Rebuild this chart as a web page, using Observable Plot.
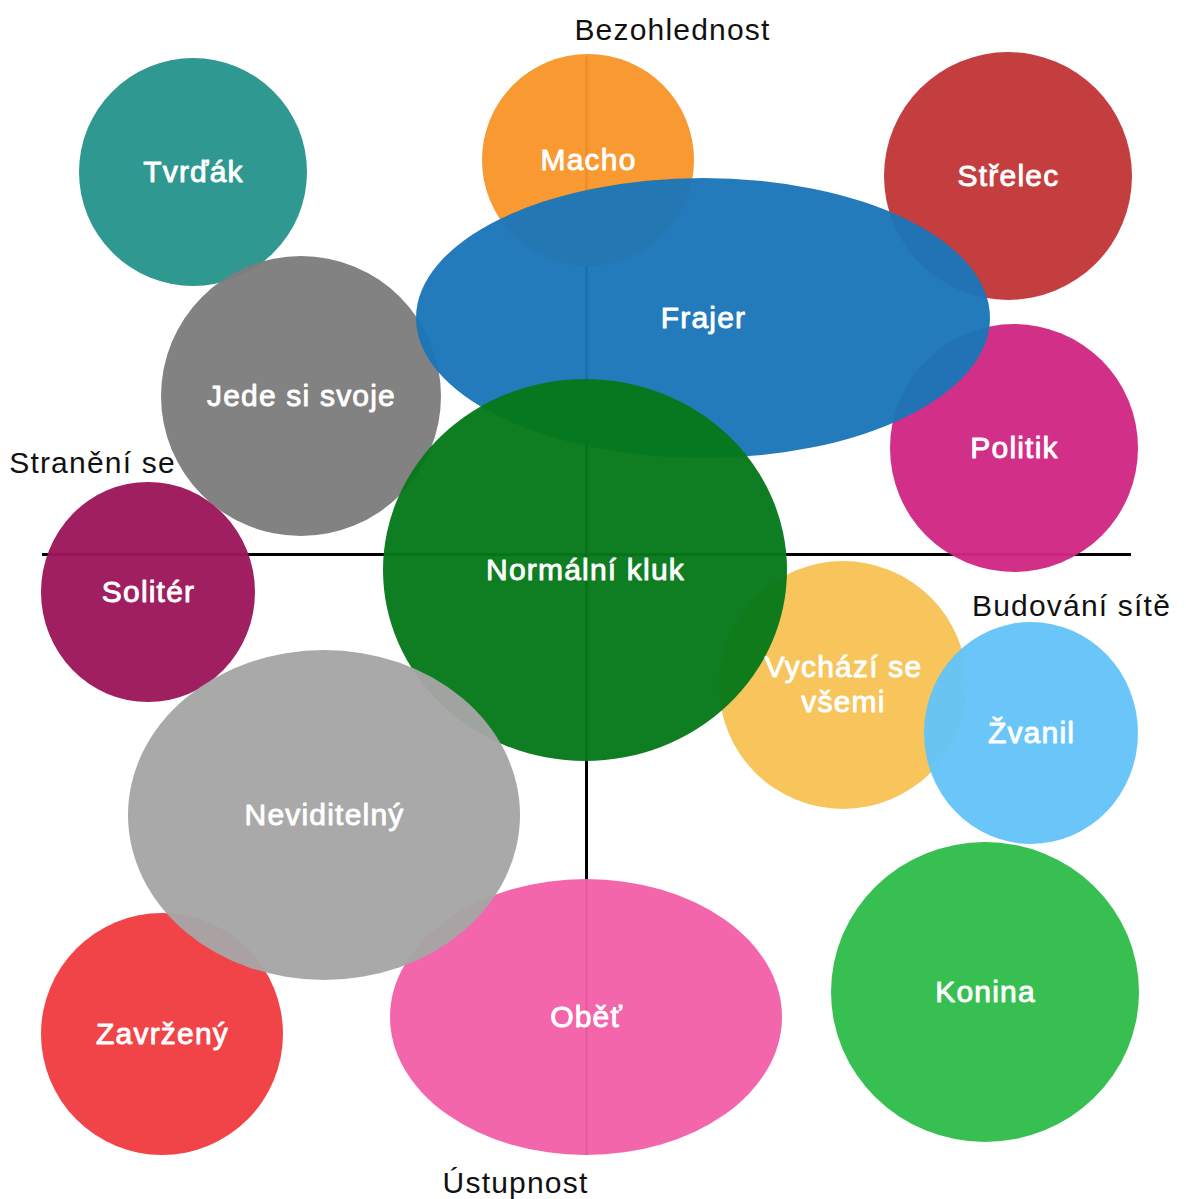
<!DOCTYPE html>
<html>
<head>
<meta charset="utf-8">
<script src="https://cdn.jsdelivr.net/npm/d3@7"></script>
<script src="https://cdn.jsdelivr.net/npm/@observablehq/plot@0.6"></script>
<style>
  html, body { margin: 0; padding: 0; background: #fff; }
  #chart svg { display: block; }
  #chart svg text { letter-spacing: 1.2px; }
</style>
</head>
<body>
<div id="chart"></div>
<script>
// Bubble categories, drawn bottom-to-top
const names = ["Tvrďák", "Jede si svoje", "Macho", "Střelec", "Politik", "Frajer", "Vychází se\nvšemi", "Normální kluk", "Žvanil", "Solitér", "Zavržený", "Oběť", "Neviditelný", "Konina"];
// Centre positions on the two axes (origin where the axes cross)
const xs = [-393, -285, 2, 422, 428, 117, 257, -1, 445, -438, -424, 0, -262, 399];
const ys = [382, 158, 394, 378, 106, 236, -131, -16, -179, -38, -480, -463, -261, -438];
// Horizontal and vertical radii
const rxs = [114, 140, 106, 124, 124, 287, 124, 202, 107, 107, 121, 196, 196, 154];
const rys = [114, 140, 106, 124, 124, 140, 124, 191, 111, 110, 121, 138, 165, 150];
const colors = ["#26948d", "#7d7d7d", "#f8952a", "#c23638", "#d02783", "#1a76b8", "#f7c355", "#057819", "#64c4f9", "#9c165a", "#f03c42", "#f260a8", "#a5a5a5", "#2fbc4b"];

// Axis pole labels
const poleLabels = ["Bezohlednost", "Stranění se", "Budování sítě", "Ústupnost"];
const poleX = [86, -494, 485, -71];
const poleY = [524, 91, -52, -629];

// Axis extents
const hAxis = {y: 0, x1: -544, x2: 545};
const vAxis = {x: 0, y1: 497, y2: -601};

const bubbles = names.map((n, i) => ({name: n, x: xs[i], y: ys[i], rx: rxs[i], ry: rys[i], color: colors[i]}));
const poles = poleLabels.map((t, i) => ({text: t, x: poleX[i], y: poleY[i]}));

const font = "'Liberation Sans', Arial, Helvetica, sans-serif";

const ellipses = (index, scales) => {
  const g = d3.create("svg:g");
  g.selectAll("ellipse")
    .data(bubbles)
    .join("ellipse")
    .attr("cx", d => scales.x(d.x))
    .attr("cy", d => scales.y(d.y))
    .attr("rx", d => Math.abs(scales.x(d.x + d.rx) - scales.x(d.x)))
    .attr("ry", d => Math.abs(scales.y(d.y + d.ry) - scales.y(d.y)))
    .attr("fill", d => d.color)
    .attr("fill-opacity", 0.96);
  return g.node();
};

const chart = Plot.plot({
  width: 1186,
  height: 1199,
  margin: 0,
  style: {fontFamily: font, background: "#fff"},
  x: {domain: [-586, 600], axis: null},
  y: {domain: [-645, 554], axis: null},
  marks: [
    Plot.ruleY([hAxis], {y: "y", x1: "x1", x2: "x2", stroke: "#000", strokeWidth: 3}),
    Plot.ruleX([vAxis], {x: "x", y1: "y1", y2: "y2", stroke: "#000", strokeWidth: 3}),
    ellipses,
    Plot.text(bubbles, {x: "x", y: "y", text: "name", fill: "#fff", stroke: "#fff", strokeWidth: 0.9, fontSize: 30, lineHeight: 1.17, lineAnchor: "middle", textAnchor: "middle", dy: -2, fontFamily: font}),
    Plot.text(poles, {x: "x", y: "y", text: "text", fill: "#111", fontSize: 30, lineAnchor: "middle", textAnchor: "middle", fontFamily: font})
  ]
});
document.getElementById("chart").appendChild(chart);
</script>
</body>
</html>
